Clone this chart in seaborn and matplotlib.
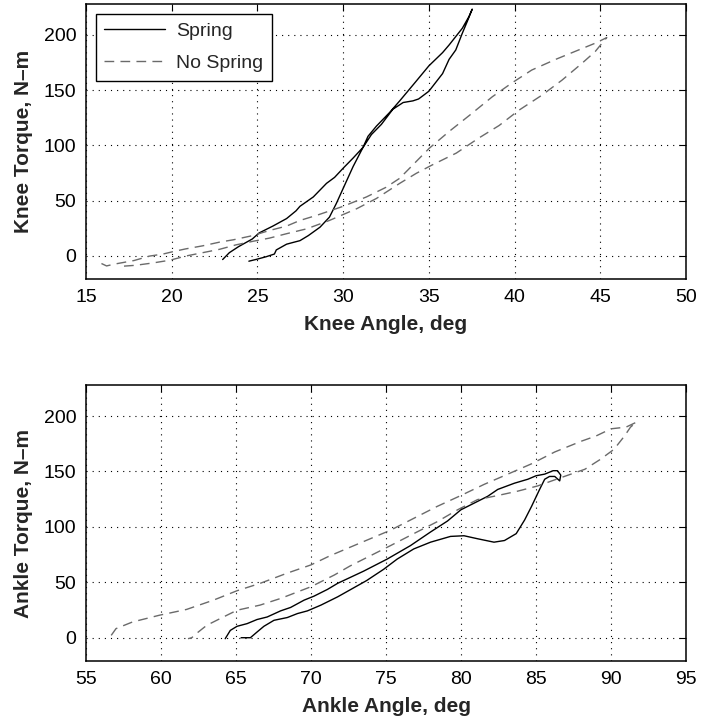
import numpy as np
import pandas as pd
import matplotlib
matplotlib.use("Agg")
import matplotlib.pyplot as plt
import seaborn as sns

# Knee: torque vs angle loops (angle in deg, torque in N-m)
knee_spring_angle = [22.97, 23.36, 23.9, 24.7, 25.1, 25.9, 26.7, 27.25, 27.48, 28.26, 29.03, 29.5,
                     30.0, 30.58, 31.16, 31.45, 31.94, 32.7, 33.3, 34.2, 35.0, 35.8, 36.18,
                     36.95, 37.34, 37.53,
                     37.24, 36.95, 36.57, 36.18, 35.8, 35.0, 34.4, 34.07, 33.5, 32.9, 32.23,
                     31.65, 31.16, 30.58, 30.0, 29.6, 29.2, 28.65, 27.97, 27.48, 27.06, 26.7,
                     26.1, 25.99, 25.5, 24.9, 24.5]
knee_spring_torque = [-3.4, 2.8, 8.3, 15.2, 20.7, 26.9, 33.7, 40.7, 44.8, 53.3, 65.6, 71,
                      79.3, 88.5, 98.2, 108.2, 117.4, 129.6, 140.3, 157, 172, 184, 190.9,
                      206, 216.7, 223.4,
                      212.2, 201.5, 186.4, 177.9, 165, 149, 142, 140.3, 138.8, 132.7, 119,
                      109.8, 98.2, 80.8, 61, 47.3, 35, 25.9, 18.3, 13.7, 12, 10.5,
                      5.3, 1.6, -0.9, -3.4, -4.9]

knee_nospring_angle = [15.9, 16.2, 16.6, 17.8, 18.7, 19.5, 20.06, 20.8, 21.8, 22.8, 23.6, 24.7,
                       25.7, 26.7, 27.48, 28.45, 30.0, 31.36, 32.5, 33.3, 34.46, 35.04, 36.2,
                       37.37, 38.7, 39.86, 41.0, 42.4, 43.5, 44.7, 45.38,
                       45.1, 44.7, 43.93, 42.77, 41.6, 40.25, 39.1, 37.9, 36.6, 35.2, 34.27,
                       33.3, 31.94, 30.8, 29.2, 27.87, 26.7, 25.7, 24.7, 23.75, 22.8, 21.8,
                       20.8, 19.9, 18.9, 17.9, 17.1]
knee_nospring_torque = [-7, -9.2, -7.7, -4.3, -0.3, 1.6, 3.7, 6.2, 9, 12.4, 14.5, 18.2,
                        22.9, 26.9, 32, 36.6, 44.8, 53.3, 62, 70.2, 88.5, 97.6, 112.8,
                        127.2, 144, 156.7, 168.2, 177.9, 184.9, 192.5, 197.6,
                        192.5, 184.9, 174.3, 159.1, 145.5, 131.8, 118, 106.5, 93, 82.3, 74.7,
                        65.6, 51.9, 42.7, 32, 24.4, 20, 16, 13, 9.9, 5.9, 2.8,
                        -0.3, -4, -6.5, -8.6, -9.5]

# Ankle: torque vs angle loops
ankle_spring_angle = [64.28, 64.62, 65.07, 65.74, 66.4, 67.08, 67.97, 68.64, 69.54, 70.2, 71.1,
                      71.78, 73.5, 75.07, 76.63, 77.97, 79.1, 79.99, 80.9, 81.78, 82.45, 83.56,
                      84.46, 85.0, 85.58, 86.14, 86.43, 86.65, 86.58,
                      86.25, 85.9, 85.58, 85.24, 84.7, 84.24, 83.68, 82.9, 82.2, 81.1, 80.2,
                      79.3, 77.97, 76.85, 75.74, 74.84, 73.7, 71.78, 70.66, 69.76, 69.1,
                      68.42, 67.53, 66.86, 66.4, 65.96, 65.34]
ankle_spring_torque = [-0.9, 6.6, 10.3, 12.7, 16.4, 18.7, 24.2, 27.3, 33.9, 37.5, 43.6,
                       49.1, 60, 70.9, 83.1, 95.4, 105.3, 115.4, 121.6, 127.6, 133.8, 139.4,
                       143, 146.1, 147.6, 150.7, 150.7, 146.7, 141.5,
                       145.5, 145.5, 143, 133.8, 118.4, 106.2, 93.9, 87.7, 86.2, 89.3, 92,
                       91.4, 86.2, 80.1, 70.9, 61.7, 51.5, 36.9, 29.4, 24.2, 21.8,
                       18.2, 15.7, 10.3, 5.1, 0, 0]

ankle_nospring_angle = [56.68, 57.0, 58.1, 59.9, 61.7, 63.5, 65.07, 66.6, 68.4, 70.0, 71.26,
                        72.6, 73.95, 75.3, 76.85, 78.4, 79.99, 81.55, 83.12, 84.7, 86.25,
                        88.04, 89.0, 90.0, 91.0, 91.7,
                        91.3, 90.9, 90.2, 89.3, 88.26, 86.7, 85.1, 83.8, 82.45, 81.1, 79.77,
                        78.4, 76.85, 75.3, 73.95, 72.6, 71.56, 70.0, 67.97, 66.6, 65.07,
                        63.95, 63.05, 62.4, 62.05, 61.8]
ankle_nospring_torque = [2.1, 8.2, 14.2, 20.3, 25.5, 33.9, 42.4, 49, 58.2, 65.7, 73.9,
                         81.6, 89.3, 97, 107.7, 118.4, 128.3, 138.4, 147.6, 156.9, 167.6,
                         177.4, 182, 188.5, 190, 194.5,
                         190, 182, 170, 161, 152, 144.6, 136.9, 132.3, 128.3, 124.6, 115.4,
                         104.6, 93.9, 83.1, 73.9, 64.7, 56.6, 46, 35.4, 29.4, 24.8,
                         17.3, 11.2, 4.2, 0, -0.9]

series_names = ["Spring", "No Spring"]
knee_ticks_x = [15, 20, 25, 30, 35, 40, 45, 50]
ankle_ticks_x = [55, 60, 65, 70, 75, 80, 85, 90, 95]
torque_ticks = [0, 50, 100, 150, 200]


def frame(angle, torque, name):
    return pd.DataFrame({"angle": angle, "torque": torque, "condition": name})


knee_df = pd.concat([frame(knee_spring_angle, knee_spring_torque, series_names[0]),
                     frame(knee_nospring_angle, knee_nospring_torque, series_names[1])])
ankle_df = pd.concat([frame(ankle_spring_angle, ankle_spring_torque, series_names[0]),
                      frame(ankle_nospring_angle, ankle_nospring_torque, series_names[1])])

sns.set_theme(style="white")
plt.rcParams["font.family"] = ["Liberation Sans", "DejaVu Sans"]

fig = plt.figure(figsize=(7.01, 7.19), dpi=100)
ax1 = fig.add_axes([0.1227, 0.612, 0.8559, 0.3824])
ax2 = fig.add_axes([0.1227, 0.0807, 0.8559, 0.3838])

palette = {"Spring": "black", "No Spring": "#6a6a6a"}
dashes = {"Spring": "", "No Spring": (7, 4.5)}


def draw(ax, df, xlim, xticks, xlabel, ylabel, legend):
    sns.lineplot(data=df, x="angle", y="torque", hue="condition", style="condition",
                 palette=palette, dashes=dashes, sort=False, estimator=None,
                 linewidth=1.0, ax=ax, legend=legend)
    ax.set_xlim(*xlim)
    ax.set_ylim(-21, 228)
    ax.set_xticks(xticks)
    ax.set_yticks(torque_ticks)
    ax.grid(True, color="black", linestyle=(0, (1.0, 4.5)), linewidth=0.8)
    ax.tick_params(direction="in", top=True, right=True, length=5, width=0.8,
                   labelsize=14, colors="black", pad=7)
    for sp in ax.spines.values():
        sp.set_color("black")
        sp.set_linewidth(1.1)
    ax.set_xlabel(xlabel, fontsize=15, fontweight="bold", labelpad=7)
    ax.set_ylabel(ylabel, fontsize=15, fontweight="bold", labelpad=8)


draw(ax1, knee_df, (15, 50), knee_ticks_x, "Knee Angle, deg", "Knee Torque, N–m", True)
draw(ax2, ankle_df, (55, 95), ankle_ticks_x, "Ankle Angle, deg", "Ankle Torque, N–m", False)

leg = ax1.legend(loc="upper left", fontsize=14, frameon=True, fancybox=False,
                 edgecolor="black", framealpha=1, handlelength=3.1,
                 borderaxespad=0.5, labelspacing=0.75, borderpad=0.45,
                 handletextpad=0.6)
leg.get_frame().set_linewidth(1.0)

fig.savefig("out.png", dpi=100)
